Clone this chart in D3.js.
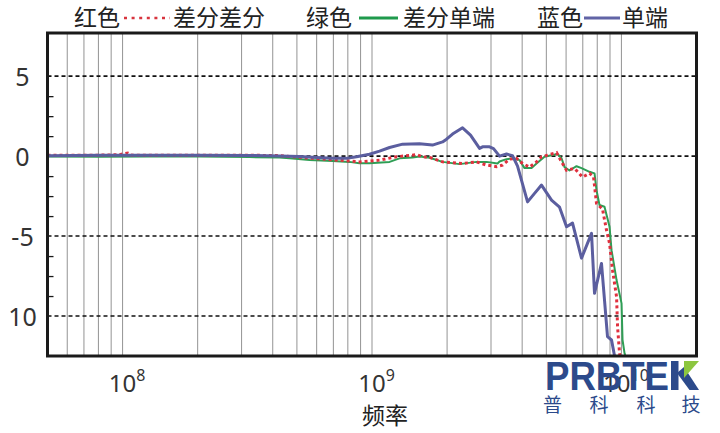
<!DOCTYPE html>
<html><head><meta charset="utf-8">
<script src="https://cdn.jsdelivr.net/npm/d3@7"></script>
<style>body{margin:0;background:#fff;} svg{display:block;}</style>
</head><body><svg id="c" width="720" height="433"></svg>
<script>
// ---- data (frequency in MHz, response in dB) ----
const redFreqMHz = [50, 81, 97, 105, 109, 128, 203, 323, 426, 577, 675, 891, 1072, 1254, 1508, 1594, 1701, 1918, 2307, 2625, 2879, 3157, 3337, 3559, 3797, 4014, 4282, 4567, 4783, 5055, 5495, 5754, 6025, 6486, 6984, 7450, 7729, 7946, 8397, 8714, 8963, 9212, 9561, 9650, 9829, 9920];
const redDb = [0.06, 0.06, 0.09, 0.19, 0.06, 0.06, 0.06, 0.06, 0.03, -0.14, -0.21, -0.36, -0.25, -0.04, 0.09, -0.04, -0.08, -0.36, -0.46, -0.36, -0.56, -0.66, -0.56, -0.19, -0.14, -0.46, -0.69, -0.36, -0.04, 0.06, 0.22, -0.36, -0.88, -0.77, -1.31, -1.08, -1.29, -2.96, -3.31, -4.63, -5.46, -7.13, -8.79, -10.67, -12.33, -12.75];

const greenFreqMHz = [50, 81, 128, 203, 323, 426, 467, 562, 694, 812, 891, 977, 1176, 1289, 1454, 1550, 1701, 1918, 2243, 2625, 2879, 3187, 3246, 3462, 3659, 3905, 4089, 4362, 4567, 4917, 5245, 5546, 5754, 5915, 6194, 6607, 6919, 7450, 7801, 7946, 8168, 8553, 8963, 9128, 9561, 10012, 10104, 10294, 10486];
const greenDb = [-0.03, -0.04, -0.03, -0.03, -0.06, -0.08, -0.14, -0.25, -0.31, -0.36, -0.44, -0.44, -0.36, -0.14, -0.08, -0.03, -0.1, -0.36, -0.5, -0.36, -0.36, -0.46, -0.34, -0.19, -0.14, -0.25, -0.75, -0.75, -0.46, -0.04, 0.06, 0.13, -0.13, -0.69, -0.9, -0.63, -0.75, -0.98, -1.08, -2.13, -3.06, -3.17, -4.42, -5.88, -7.75, -9.21, -11.5, -12.33, -12.75];

const blueFreqMHz = [50, 81, 128, 203, 323, 426, 512, 599, 694, 790, 867, 977, 1072, 1176, 1326, 1550, 1748, 1918, 1990, 2103, 2307, 2483, 2699, 2775, 2960, 3071, 3246, 3462, 3659, 3833, 4204, 4484, 4783, 5245, 5649, 6025, 6368, 6919, 7588, 7801, 8320, 8794, 9128, 9386, 9561];
const blueDb = [0.03, 0.05, 0.06, 0.06, 0.04, 0, -0.03, -0.08, -0.14, -0.14, -0.04, 0.12, 0.31, 0.54, 0.75, 0.78, 0.69, 0.89, 1.06, 1.38, 1.77, 1.31, 0.48, 0.58, 0.58, 0.47, 0, 0.13, 0.03, -0.63, -2.86, -2.33, -1.81, -2.75, -3.19, -4.42, -4.19, -6.38, -4.83, -8.58, -6.71, -11.29, -11.5, -12.5, -12.9];

const yTickValues = [5, 0, -5, -10];
const yTickLabels = ["5", "0", "-5", "10"];
const yMinorTicks = [3.75, 2.5, 1.25, -1.25, -2.5, -3.75, -6.25, -7.5, -8.75];
const xLabelExponents = [8, 9, 10];
const legendNames = ["红色", "差分差分", "绿色", "差分单端", "蓝色", "单端"];
const xTitle = "频率";
const logoText = "PRBTE";
const logoSub = ["普", "科", "科", "技"];

// ---- layout ----
const svg = d3.select("#c");
const L = 47.5, R = 696.5, T = 33, B = 356;
const x = d3.scaleLog().domain([5e7, 2e10]).range([L, R]);
const y = d3.scaleLinear().domain([-12.5, 7.7]).range([B, T]);

// vertical grid lines
const gridVals = [];
for (let d = 7; d <= 10; d++) for (let m = 1; m <= 9; m++) {
  const v = m * Math.pow(10, d);
  if (v > 5e7 && v <= 1e10) gridVals.push(v);
}
svg.append("g").selectAll("line").data(gridVals).join("line")
  .attr("x1", d => x(d)).attr("x2", d => x(d))
  .attr("y1", T).attr("y2", B)
  .attr("stroke", "#939393").attr("stroke-width", 1);

// dashed horizontal lines
svg.append("g").selectAll("line").data(yTickValues).join("line")
  .attr("x1", L).attr("x2", R)
  .attr("y1", d => y(d)).attr("y2", d => y(d))
  .attr("stroke", "#111").attr("stroke-width", 1.6)
  .attr("stroke-dasharray", "4,3");

// curves
svg.append("clipPath").attr("id", "clip").append("rect")
  .attr("x", L).attr("y", T).attr("width", R - L).attr("height", B - T);
const line = d3.line().x(d => x(d[0] * 1e6)).y(d => y(d[1]));
const zip = (a, b) => a.map((v, i) => [v, b[i]]);
const curves = svg.append("g").attr("clip-path", "url(#clip)");
curves.append("path").datum(zip(greenFreqMHz, greenDb)).attr("d", line)
  .attr("fill", "none").attr("stroke", "#2f9e55").attr("stroke-width", 2)
  .attr("stroke-linejoin", "round");
curves.append("path").datum(zip(redFreqMHz, redDb)).attr("d", line)
  .attr("fill", "none").attr("stroke", "#e0303e").attr("stroke-width", 3)
  .attr("stroke-dasharray", "3,3");
curves.append("path").datum(zip(blueFreqMHz, blueDb)).attr("d", line)
  .attr("fill", "none").attr("stroke", "#5b5e9f").attr("stroke-width", 3)
  .attr("stroke-linejoin", "round");

// frame
svg.append("rect").attr("x", L).attr("y", T).attr("width", R - L).attr("height", B - T)
  .attr("fill", "none").attr("stroke", "#1a1a1a").attr("stroke-width", 3);

// minor ticks (inward)
const minor = svg.append("g").attr("transform", `translate(${L},0)`)
  .call(d3.axisRight(y).tickValues(yMinorTicks).tickSize(6).tickFormat(""));
minor.select(".domain").remove();
minor.selectAll("line").attr("stroke", "#1a1a1a").attr("stroke-width", 1.3);

// y labels
const yAx = svg.append("g").attr("transform", `translate(${L},0)`)
  .call(d3.axisLeft(y).tickValues(yTickValues).tickSize(0)
    .tickFormat((d, i) => yTickLabels[i]));
yAx.select(".domain").remove();
yAx.selectAll("text").attr("x", -25).attr("text-anchor", "middle")
  .attr("dy", "0.36em")
  .style("font-family", "'Noto Sans', sans-serif").style("font-size", "25px")
  .attr("fill", "#333");

// x labels with superscripts
const xAx = svg.append("g").attr("transform", `translate(0,${B})`)
  .call(d3.axisBottom(x).tickValues(xLabelExponents.map(e => Math.pow(10, e)))
    .tickSize(0).tickFormat(""));
xAx.select(".domain").remove();
xAx.selectAll(".tick").each(function (d, i) {
  const g = d3.select(this);
  const t = g.append("text").attr("y", 36).attr("x", 4).attr("text-anchor", "middle")
    .style("font-family", "'Noto Sans', sans-serif").attr("fill", "#333");
  t.append("tspan").style("font-size", "24px").text("10");
  t.append("tspan").style("font-size", "16px").attr("dy", -11).text(xLabelExponents[i]);
});

// x title
svg.append("text").attr("x", 385).attr("y", 424).attr("text-anchor", "middle")
  .style("font-family", "'Noto Sans CJK SC', sans-serif").style("font-size", "23px")
  .attr("fill", "#222").text(xTitle);

// legend
const lg = svg.append("g").style("font-family", "'Noto Sans CJK SC', sans-serif")
  .style("font-size", "23px").attr("fill", "#222");
const legendTextX = [74, 173, 306, 403, 537, 622];
legendNames.forEach((n, i) => lg.append("text").attr("x", legendTextX[i]).attr("y", 26).text(n));
lg.append("line").attr("x1", 124).attr("x2", 170).attr("y1", 18).attr("y2", 18)
  .attr("stroke", "#d8343e").attr("stroke-width", 2.5).attr("stroke-dasharray", "3,4.6");
lg.append("line").attr("x1", 359).attr("x2", 398).attr("y1", 18).attr("y2", 18)
  .attr("stroke", "#1f9a4c").attr("stroke-width", 3);
lg.append("line").attr("x1", 584).attr("x2", 620).attr("y1", 18).attr("y2", 18)
  .attr("stroke", "#6164a6").attr("stroke-width", 3);

// logo
const logoBlue = "#2c4a8b";
const logo = svg.append("g");
logo.append("text").attr("x", 545).attr("y", 390)
  .attr("textLength", 124).attr("lengthAdjust", "spacingAndGlyphs")
  .style("font-family", "'Liberation Sans', Arial, sans-serif").style("font-weight", "bold")
  .style("font-size", "40px").attr("fill", logoBlue).text(logoText);
logo.append("rect").attr("x", 671).attr("y", 361).attr("width", 7.5).attr("height", 29).attr("fill", logoBlue);
logo.append("path").attr("d", "M677,373 L684,367 L699,390 L689.5,390 Z").attr("fill", logoBlue);
logo.append("path").attr("d", "M684,361 L699,361 L684,378 Z").attr("fill", "#8cc63f");
const subX = [552.5, 599, 646, 691];
logoSub.forEach((c, i) => logo.append("text").attr("x", subX[i]).attr("y", 412)
  .attr("text-anchor", "middle")
  .style("font-family", "'Noto Sans CJK SC', sans-serif").style("font-size", "19px")
  .attr("fill", logoBlue).text(c));
</script></body></html>
